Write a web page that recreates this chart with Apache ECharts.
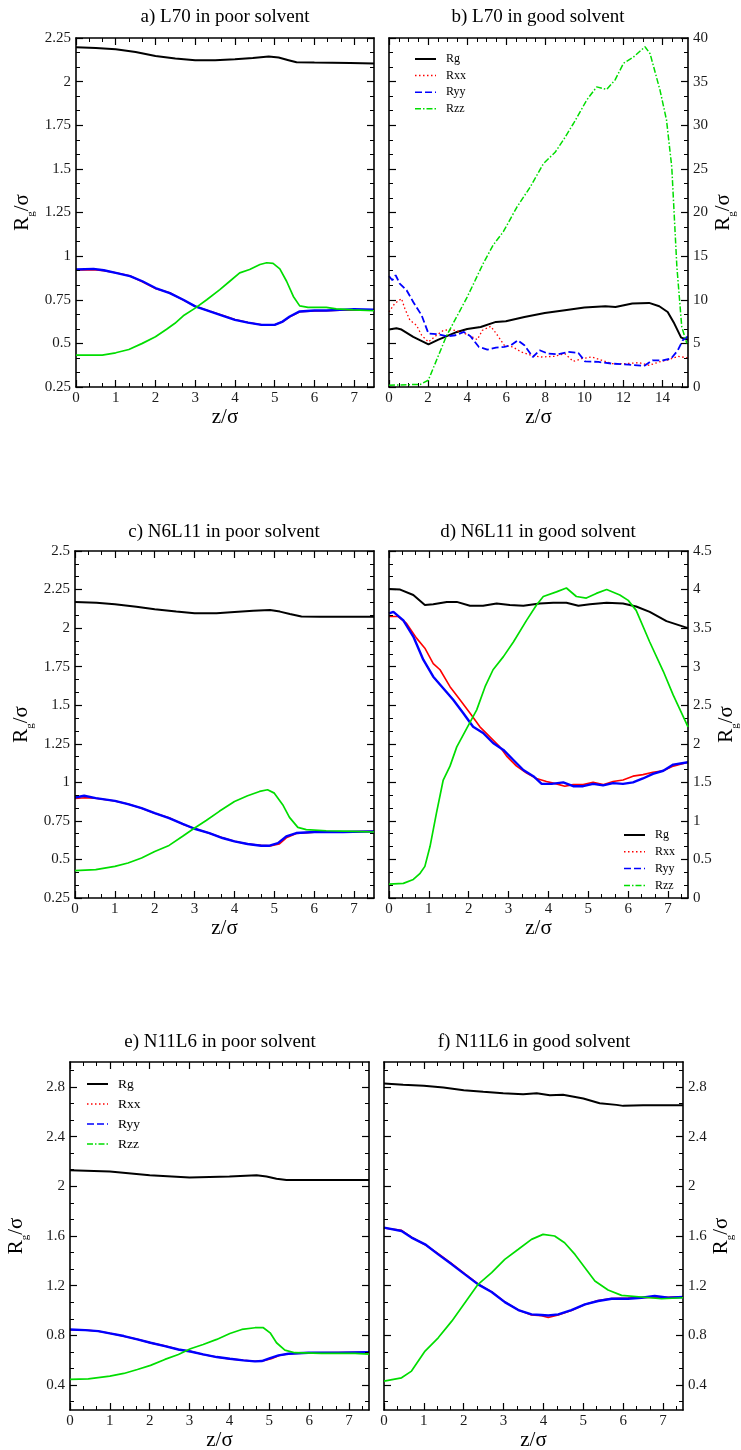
<!DOCTYPE html>
<html><head><meta charset="utf-8">
<script src="https://cdn.jsdelivr.net/npm/echarts@6.0.0/dist/echarts.min.js"></script>
<style>html,body{margin:0;padding:0;background:#fff}#chart{width:741px;height:1450px}</style>
</head><body><div id="chart"></div>
<script>
// ---------- data ----------
const SERIES_NAMES = ['Rg', 'Rxx', 'Ryy', 'Rzz'];
const TITLES = ['a) L70 in poor solvent', 'b) L70 in good solvent', 'c) N6L11 in poor solvent',
  'd) N6L11 in good solvent', 'e) N11L6 in poor solvent', 'f) N11L6 in good solvent'];
const X_TICKS = [0, 1, 2, 3, 4, 5, 6, 7];
const X_TICKS_B = [0, 2, 4, 6, 8, 10, 12, 14];
const Y_TICKS_A = [0.25, 0.5, 0.75, 1, 1.25, 1.5, 1.75, 2, 2.25];
const Y_TICKS_B = [0, 5, 10, 15, 20, 25, 30, 35, 40];
const Y_TICKS_C = [0.25, 0.5, 0.75, 1, 1.25, 1.5, 1.75, 2, 2.25, 2.5];
const Y_TICKS_D = [0, 0.5, 1, 1.5, 2, 2.5, 3, 3.5, 4, 4.5];
const Y_TICKS_EF = [0.4, 0.8, 1.2, 1.6, 2, 2.4, 2.8];

// panel a
const a_Rg = [[0,2.197],[0.5,2.193],[1,2.185],[1.5,2.17],[2,2.147],[2.5,2.132],[3,2.123],[3.5,2.122],[4,2.128],[4.45,2.135],[4.85,2.144],[5.1,2.138],[5.35,2.123],[5.55,2.111],[6,2.109],[6.9,2.107],[7.5,2.104]];
const a_Rxx = [[0,0.921],[0.44,0.922],[0.7,0.917],[1,0.905],[1.35,0.887],[1.67,0.853],[2,0.814],[2.36,0.79],[2.7,0.748],[3,0.713],[3.37,0.684],[3.7,0.66],[4,0.637],[4.33,0.62],[4.67,0.607],[5,0.607],[5.2,0.624],[5.38,0.652],[5.63,0.681],[6,0.686],[6.3,0.687],[6.64,0.69],[7,0.692],[7.5,0.69]];
const a_Ryy = [[0,0.923],[0.44,0.927],[0.7,0.919],[1,0.904],[1.36,0.885],[1.67,0.856],[2,0.817],[2.36,0.788],[2.7,0.75],[3,0.712],[3.37,0.683],[3.7,0.658],[4,0.635],[4.33,0.619],[4.67,0.606],[5,0.606],[5.2,0.625],[5.38,0.654],[5.63,0.683],[6,0.688],[6.3,0.688],[6.64,0.692],[7,0.696],[7.5,0.693]];
const a_Rzz = [[0,0.433],[0.66,0.433],[1,0.446],[1.33,0.465],[1.67,0.5],[2,0.538],[2.28,0.581],[2.49,0.615],[2.7,0.658],[3,0.702],[3.29,0.75],[3.62,0.808],[3.87,0.856],[4.12,0.904],[4.37,0.923],[4.63,0.952],[4.8,0.962],[4.96,0.958],[5.13,0.927],[5.3,0.856],[5.47,0.769],[5.63,0.715],[5.84,0.706],[6.3,0.706],[6.55,0.698],[6.97,0.692],[7.5,0.687]];

// panel b
const b_Rg = [[0,6.58],[0.38,6.73],[0.64,6.58],[1.24,5.74],[2.02,4.89],[2.53,5.43],[3.48,6.31],[4,6.65],[4.69,6.88],[5.47,7.46],[5.98,7.53],[6.93,8.03],[7.97,8.49],[9,8.8],[10,9.1],[11.07,9.25],[11.59,9.18],[12.45,9.56],[13.31,9.64],[13.83,9.25],[14.26,8.6],[14.6,7.27],[14.95,5.66],[15.3,5.43]];
const b_Rxx = [[0,8.6],[0.29,9.56],[0.64,10.13],[0.81,8.99],[1.07,7.65],[1.41,7.07],[1.67,5.93],[2.02,5.16],[2.36,5.81],[2.79,6.5],[3.22,6.58],[3.66,6.31],[4.09,5.93],[4.52,5.43],[4.78,6.5],[5.21,6.96],[5.55,5.93],[5.9,4.78],[6.33,4.59],[6.76,4.02],[7.28,3.63],[7.79,3.44],[8.48,3.52],[9,3.82],[9.43,2.94],[9.86,3.25],[10.38,3.44],[10.9,3.06],[11.41,2.68],[12.1,2.68],[12.79,2.79],[13.31,2.49],[13.83,2.87],[14.34,3.14],[14.78,3.52],[15.3,3.33]];
const b_Ryy = [[0,12.7],[0.17,12.24],[0.34,12.81],[0.55,11.85],[0.9,11.09],[1.24,9.75],[1.67,8.22],[2.02,6.12],[2.53,6.04],[2.97,5.81],[3.4,5.93],[3.83,6.31],[4.17,5.81],[4.6,4.59],[5.03,4.28],[5.47,4.51],[5.9,4.59],[6.24,4.78],[6.59,5.35],[6.93,4.78],[7.36,3.44],[7.71,4.21],[8.14,3.82],[8.66,3.75],[9.17,4.02],[9.69,3.9],[10.03,2.94],[10.72,2.87],[11.41,2.68],[12.28,2.56],[13.05,2.41],[13.48,3.06],[14,3.06],[14.43,3.25],[14.78,4.21],[15.03,5.35],[15.3,5.81]];
const b_Rzz = [[0,0.2],[1.6,0.3],[2.01,0.77],[2.95,5.9],[4,10.3],[4.83,14.2],[5.34,16.3],[5.85,17.8],[6.54,20.6],[7.22,22.9],[7.9,25.6],[8.5,26.9],[8.92,28.3],[9.44,30.2],[10.12,32.9],[10.63,34.4],[11.14,34.1],[11.57,35.2],[12.0,37.1],[12.5,37.8],[13.1,39.0],[13.36,38.2],[13.87,34.0],[14.2,30.6],[14.47,25.2],[14.73,13.8],[14.98,6.9],[15.24,5.0]];

// panel c
const c_Rg = [[0,2.17],[0.54,2.165],[1,2.154],[1.54,2.139],[2,2.122],[2.54,2.107],[3,2.096],[3.55,2.096],[4,2.105],[4.47,2.113],[4.89,2.118],[5.14,2.107],[5.39,2.092],[5.68,2.075],[6.14,2.073],[7.5,2.073]];
const c_Rxx = [[0,0.895],[0.25,0.9],[0.52,0.897],[1,0.879],[1.33,0.86],[1.67,0.832],[2,0.8],[2.36,0.77],[2.7,0.729],[3,0.7],[3.37,0.67],[3.7,0.64],[4,0.618],[4.33,0.6],[4.67,0.591],[4.9,0.588],[5.12,0.6],[5.3,0.64],[5.55,0.668],[6,0.677],[6.72,0.679],[7.5,0.683]];
const c_Ryy = [[0,0.902],[0.23,0.913],[0.52,0.898],[1,0.88],[1.33,0.859],[1.67,0.833],[2,0.801],[2.36,0.768],[2.7,0.73],[3,0.699],[3.37,0.671],[3.7,0.639],[4,0.617],[4.33,0.6],[4.67,0.589],[4.88,0.589],[5.09,0.606],[5.3,0.65],[5.55,0.671],[6,0.678],[6.72,0.678],[7.5,0.682]];
const c_Rzz = [[0,0.427],[0.52,0.434],[1,0.455],[1.33,0.477],[1.67,0.509],[2,0.552],[2.36,0.591],[2.7,0.65],[3,0.704],[3.29,0.753],[3.62,0.812],[4,0.876],[4.33,0.913],[4.63,0.941],[4.83,0.952],[5,0.93],[5.21,0.855],[5.38,0.773],[5.59,0.708],[5.8,0.693],[6.3,0.686],[6.97,0.682],[7.5,0.678]];

// panel d
const d_Rg = [[0,4.007],[0.28,4.0],[0.61,3.93],[0.9,3.8],[1.11,3.81],[1.45,3.84],[1.7,3.84],[2.03,3.79],[2.36,3.79],[2.7,3.82],[3.03,3.8],[3.37,3.79],[3.78,3.82],[4.12,3.83],[4.45,3.83],[4.75,3.79],[5.04,3.81],[5.46,3.83],[5.87,3.82],[6.2,3.78],[6.54,3.71],[6.96,3.59],[7.5,3.5]];
const d_Rxx = [[0,3.65],[0.23,3.65],[0.44,3.56],[0.69,3.37],[0.9,3.24],[1.11,3.04],[1.28,2.96],[1.53,2.74],[1.78,2.57],[2.03,2.4],[2.28,2.22],[2.53,2.09],[2.78,1.96],[2.95,1.84],[3.2,1.71],[3.45,1.62],[3.7,1.55],[3.95,1.51],[4.2,1.48],[4.41,1.45],[4.62,1.47],[4.87,1.47],[5.12,1.5],[5.37,1.47],[5.62,1.51],[5.87,1.53],[6.12,1.58],[6.37,1.6],[6.62,1.63],[6.88,1.65],[7.13,1.71],[7.5,1.76]];
const d_Ryy = [[0,3.69],[0.11,3.71],[0.36,3.6],[0.61,3.39],[0.86,3.09],[1.11,2.87],[1.36,2.72],[1.61,2.57],[1.86,2.4],[2.11,2.22],[2.36,2.14],[2.61,2.01],[2.87,1.92],[3.12,1.79],[3.37,1.66],[3.62,1.58],[3.83,1.48],[4.08,1.48],[4.37,1.5],[4.62,1.45],[4.87,1.45],[5.12,1.48],[5.37,1.46],[5.62,1.49],[5.87,1.48],[6.12,1.5],[6.37,1.55],[6.62,1.61],[6.88,1.65],[7.13,1.73],[7.5,1.76]];
const d_Rzz = [[0,0.18],[0.36,0.19],[0.61,0.24],[0.78,0.32],[0.9,0.41],[1.03,0.67],[1.19,1.1],[1.36,1.53],[1.53,1.71],[1.7,1.96],[1.95,2.2],[2.2,2.44],[2.41,2.74],[2.61,2.96],[2.87,3.13],[3.12,3.32],[3.45,3.6],[3.7,3.8],[3.87,3.91],[4.2,3.97],[4.45,4.02],[4.7,3.91],[4.95,3.89],[5.2,3.95],[5.46,4.0],[5.79,3.93],[6.0,3.86],[6.2,3.73],[6.54,3.32],[6.88,2.94],[7.13,2.63],[7.5,2.22]];

// panel e
const e_Rg = [[0,2.13],[1,2.118],[2,2.089],[3,2.07],[4,2.078],[4.68,2.089],[4.93,2.078],[5.18,2.06],[5.43,2.05],[6.02,2.05],[7.5,2.05]];
const e_Rxx = [[0,0.846],[0.38,0.844],[0.71,0.833],[1,0.818],[1.35,0.794],[1.69,0.77],[2.02,0.74],[2.38,0.716],[2.72,0.686],[3.02,0.672],[3.34,0.646],[3.68,0.627],[4.01,0.611],[4.35,0.6],[4.64,0.592],[4.85,0.596],[5.05,0.612],[5.25,0.638],[5.48,0.652],[5.98,0.66],[6.73,0.662],[7.5,0.664]];
const e_Ryy = [[0,0.848],[0.38,0.843],[0.71,0.835],[1,0.816],[1.35,0.795],[1.69,0.768],[2.02,0.741],[2.38,0.714],[2.72,0.687],[3.02,0.671],[3.34,0.647],[3.68,0.626],[4.01,0.612],[4.35,0.599],[4.64,0.591],[4.81,0.594],[5.02,0.618],[5.23,0.64],[5.48,0.653],[5.98,0.661],[6.73,0.661],[7.5,0.666]];
const e_Rzz = [[0,0.446],[0.46,0.451],[1,0.473],[1.35,0.494],[1.69,0.526],[2.02,0.559],[2.38,0.607],[2.72,0.647],[3.02,0.693],[3.34,0.727],[3.68,0.768],[4.01,0.816],[4.31,0.848],[4.64,0.862],[4.85,0.862],[5.02,0.821],[5.18,0.741],[5.39,0.682],[5.64,0.661],[6.31,0.655],[7.15,0.655],[7.5,0.65]];

// panel f
const f_Rg = [[0,2.827],[0.48,2.816],[1,2.808],[1.49,2.795],[2,2.773],[2.49,2.76],[2.99,2.749],[3.49,2.741],[3.83,2.749],[4.16,2.733],[4.49,2.736],[5,2.706],[5.41,2.668],[5.83,2.655],[6,2.647],[6.5,2.652],[7.5,2.652]];
const f_Rxx = [[0,1.665],[0.44,1.645],[0.69,1.59],[1.03,1.53],[1.36,1.458],[1.7,1.378],[2.03,1.295],[2.36,1.215],[2.7,1.15],[3.03,1.07],[3.37,1.005],[3.7,0.965],[3.95,0.958],[4.12,0.945],[4.37,0.965],[4.7,1.0],[5.04,1.048],[5.37,1.08],[5.71,1.097],[6.12,1.1],[6.46,1.105],[6.79,1.108],[7.13,1.106],[7.5,1.11]];
const f_Ryy = [[0,1.667],[0.44,1.64],[0.69,1.587],[1.03,1.533],[1.36,1.452],[1.7,1.372],[2.03,1.291],[2.36,1.211],[2.7,1.149],[3.03,1.068],[3.37,1.004],[3.7,0.969],[3.95,0.964],[4.12,0.96],[4.37,0.969],[4.7,1.004],[5.04,1.05],[5.37,1.077],[5.71,1.095],[6.12,1.095],[6.46,1.103],[6.79,1.117],[7.13,1.103],[7.5,1.109]];
const f_Rzz = [[0,0.432],[0.44,0.459],[0.69,0.513],[1.03,0.674],[1.36,0.781],[1.7,0.915],[2.03,1.063],[2.36,1.211],[2.7,1.305],[3.03,1.412],[3.37,1.493],[3.7,1.573],[3.99,1.613],[4.28,1.6],[4.53,1.546],[4.79,1.452],[5.04,1.345],[5.29,1.238],[5.62,1.165],[5.96,1.122],[6.46,1.109],[6.96,1.095],[7.5,1.103]];

// ---------- layout / style ----------
const FONT = '"Liberation Serif", "Times New Roman", serif';
const COLORS = ['#000000', '#ff0000', '#0000ff', '#00dd00'];
const WIDTHS = [2, 1.3, 1.8, 1.5];
const DENSE_WIDTHS = [2, 1.6, 2.4, 1.7];
const DASHES = ['solid', [1.5, 2.5], [7, 3], [6, 2, 1.5, 2]];

const PANELS = [
  {grid:{left:76,top:38,width:298,height:349}, x:{min:0,max:7.5,ticks:X_TICKS,split:3}, y:{min:0.25,max:2.25,ticks:Y_TICKS_A,split:3}, side:'left', data:[a_Rg,a_Rxx,a_Ryy,a_Rzz], patterned:false, tx:225, ty:17},
  {grid:{left:389,top:38,width:299,height:349}, x:{min:0,max:15.3,ticks:X_TICKS_B,split:4}, y:{min:0,max:40,ticks:Y_TICKS_B,split:3}, side:'right', data:[b_Rg,b_Rxx,b_Ryy,b_Rzz], patterned:true, tx:538, ty:17},
  {grid:{left:75,top:551,width:299,height:347}, x:{min:0,max:7.5,ticks:X_TICKS,split:3}, y:{min:0.25,max:2.5,ticks:Y_TICKS_C,split:3}, side:'left', data:[c_Rg,c_Rxx,c_Ryy,c_Rzz], patterned:false, tx:224, ty:532},
  {grid:{left:389,top:551,width:299,height:347}, x:{min:0,max:7.5,ticks:X_TICKS,split:3}, y:{min:0,max:4.5,ticks:Y_TICKS_D,split:3}, side:'right', data:[d_Rg,d_Rxx,d_Ryy,d_Rzz], patterned:false, tx:538, ty:532},
  {grid:{left:70,top:1062,width:299,height:348}, x:{min:0,max:7.5,ticks:X_TICKS,split:3}, y:{min:0.2,max:3.0,ticks:Y_TICKS_EF,split:3}, side:'left', data:[e_Rg,e_Rxx,e_Ryy,e_Rzz], patterned:false, tx:220, ty:1042},
  {grid:{left:384,top:1062,width:299,height:348}, x:{min:0,max:7.5,ticks:X_TICKS,split:3}, y:{min:0.2,max:3.0,ticks:Y_TICKS_EF,split:3}, side:'right', data:[f_Rg,f_Rxx,f_Ryy,f_Rzz], patterned:false, tx:534, ty:1042}
];

const LEGENDS = [
  {left:414, top:53, gap:4.6, fontSize:12},
  {left:623, top:829, gap:4.8, fontSize:12},
  {left:86, top:1077, gap:6, fontSize:13.5}
];

function minorTicks(min, max, majors, split) {
  const step = majors[1] - majors[0];
  const res = [];
  for (let k = -1; k < majors.length; k++) {
    const base = majors[0] + k * step;
    for (let j = 1; j < split; j++) {
      const v = base + j * step / split;
      if (v > min + 1e-9 && v < max - 1e-9) res.push(v);
    }
  }
  return res;
}

const Y_NAME = '{r|R}{s|g}{r|/σ}';
const Y_RICH = {
  r: {fontFamily: FONT, fontSize: 21, lineHeight: 22, color: '#000', verticalAlign: 'top'},
  s: {fontFamily: FONT, fontSize: 11, lineHeight: 11, color: '#000', padding: [14, 0, 0, 0], verticalAlign: 'top'}
};

function makeAxes(p, gi, dim) {
  const cfg = p[dim];
  const minors = minorTicks(cfg.min, cfg.max, cfg.ticks, cfg.split);
  const positions = dim === 'x' ? ['bottom', 'top'] : ['left', 'right'];
  const labelPos = dim === 'x' ? 'bottom' : p.side;
  const out = [];
  positions.forEach(pos => {
    const labeled = pos === labelPos;
    const major = {
      type: 'value', gridIndex: gi, position: pos, min: cfg.min, max: cfg.max,
      axisLine: {show: true, onZero: false, lineStyle: {color: '#000', width: 1.6}},
      axisTick: {show: true, inside: true, length: 7, customValues: cfg.ticks, lineStyle: {color: '#000', width: 1.2}},
      minorTick: {show: false}, splitLine: {show: false}, minorSplitLine: {show: false},
      axisLabel: labeled ? {show: true, customValues: cfg.ticks, margin: dim === 'x' ? 4 : 5,
        fontFamily: FONT, fontSize: 15, color: '#1a1a1a', formatter: v => String(v)} : {show: false},
      axisPointer: {show: false}, z: 5
    };
    if (labeled && dim === 'x') {
      major.name = 'z/σ'; major.nameLocation = 'middle'; major.nameGap = 18;
      major.nameTextStyle = {fontFamily: FONT, fontSize: 21, color: '#000'};
    }
    if (labeled && dim === 'y') {
      major.name = Y_NAME; major.nameLocation = 'middle'; major.nameRotate = 90;
      major.nameGap = pos === 'left' ? 42 : 25;
      major.nameTextStyle = {fontFamily: FONT, fontSize: 21, color: '#000', rich: Y_RICH};
    }
    out.push(major);
    out.push({
      type: 'value', gridIndex: gi, position: pos, min: cfg.min, max: cfg.max,
      axisLine: {show: false, onZero: false},
      axisTick: {show: true, inside: true, length: 4, customValues: minors, lineStyle: {color: '#000', width: 1}},
      minorTick: {show: false}, splitLine: {show: false}, minorSplitLine: {show: false},
      axisLabel: {show: false}, axisPointer: {show: false}, z: 5
    });
  });
  return out;
}

const option = {
  animation: false,
  backgroundColor: '#ffffff',
  grid: [], xAxis: [], yAxis: [], series: [], legend: [], graphic: []
};

PANELS.forEach((p, gi) => {
  option.grid.push(Object.assign({containLabel: false, outerBoundsMode: 'none', show: false}, p.grid));
  option.xAxis.push(...makeAxes(p, gi, 'x'));
  option.yAxis.push(...makeAxes(p, gi, 'y'));
  SERIES_NAMES.forEach((name, si) => {
    option.series.push({
      type: 'line', name: name, xAxisIndex: gi * 4, yAxisIndex: gi * 4 + (p.side === 'left' ? 0 : 2),
      data: p.data[si], showSymbol: false, symbol: 'none', silent: true, clip: true,
      lineStyle: {color: COLORS[si], width: p.patterned ? WIDTHS[si] : DENSE_WIDTHS[si],
        type: p.patterned ? DASHES[si] : 'solid'},
      z: 2 + si
    });
  });
  option.graphic.push({
    type: 'text', x: p.tx, y: p.ty, silent: true,
    style: {text: TITLES[gi], fontFamily: FONT, fontSize: 19, fill: '#000', align: 'center', verticalAlign: 'middle'}
  });
});

LEGENDS.forEach(l => {
  option.legend.push({
    orient: 'vertical', left: l.left, top: l.top, itemWidth: 21, itemHeight: 10, itemGap: l.gap,
    selectedMode: false, padding: 0,
    textStyle: {fontFamily: FONT, fontSize: l.fontSize, color: '#000', padding: [0, 0, 0, 5]},
    itemStyle: {color: 'rgba(0,0,0,0)', borderWidth: 0, opacity: 0},
    data: SERIES_NAMES.map((n, si) => ({
      name: n,
      lineStyle: {color: COLORS[si], width: si === 0 ? 2 : 1.5, type: DASHES[si]},
      itemStyle: {color: 'rgba(0,0,0,0)', borderWidth: 0, opacity: 0}
    }))
  });
});

const chart = echarts.init(document.getElementById('chart'), null, {renderer: 'canvas'});
chart.setOption(option);
</script></body></html>
